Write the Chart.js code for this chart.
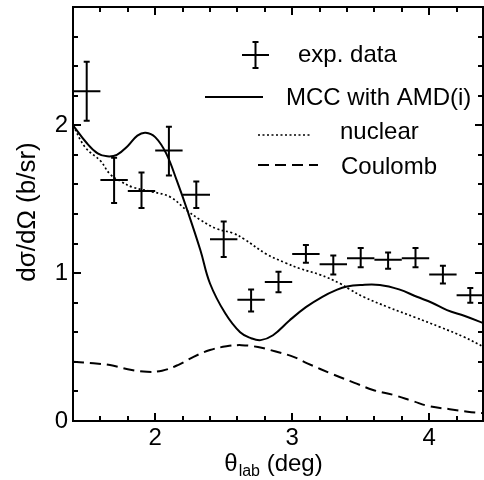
<!DOCTYPE html>
<html>
<head>
<meta charset="utf-8">
<script src="https://cdn.jsdelivr.net/npm/chart.js@4.4.1/dist/chart.umd.min.js"></script>
<style>
  html, body { margin: 0; padding: 0; background: #fff; }
  #wrap { width: 484px; height: 480px; }
</style>
</head>
<body>
<div id="wrap"><canvas id="chart" width="484" height="480"></canvas></div>
<script>
// Experimental points (deg, b/sr) with vertical error range
const expAngle = [1.50, 1.70, 1.90, 2.10, 2.30, 2.50, 2.70, 2.90, 3.10, 3.30, 3.50, 3.70, 3.90, 4.10, 4.30];
const expValue = [2.23, 1.63, 1.555, 1.83, 1.53, 1.23, 0.82, 0.94, 1.13, 1.06, 1.10, 1.09, 1.10, 0.99, 0.85];
const expLow   = [2.03, 1.475, 1.44, 1.66, 1.44, 1.11, 0.74, 0.87, 1.07, 0.99, 1.04, 1.03, 1.04, 0.93, 0.80];
const expHigh  = [2.43, 1.78, 1.68, 1.99, 1.62, 1.35, 0.89, 1.01, 1.19, 1.12, 1.17, 1.14, 1.17, 1.05, 0.90];
const expHalfWidth = 0.1;

// MCC with AMD(i)
const mccAngle = [1.40, 1.50, 1.58, 1.65, 1.72, 1.80, 1.87, 1.93, 2.00, 2.08, 2.16, 2.24, 2.33, 2.40, 2.51, 2.62, 2.70, 2.77, 2.86, 2.98, 3.10, 3.22, 3.32, 3.40, 3.50, 3.64, 3.78, 3.91, 4.02, 4.13, 4.26, 4.40];
const mccValue = [2.00, 1.88, 1.81, 1.79, 1.80, 1.86, 1.93, 1.95, 1.92, 1.81, 1.62, 1.41, 1.155, 0.93, 0.73, 0.60, 0.56, 0.547, 0.58, 0.68, 0.77, 0.84, 0.885, 0.91, 0.92, 0.92, 0.89, 0.84, 0.80, 0.75, 0.71, 0.66];

// nuclear
const nucAngle = [1.40, 1.49, 1.60, 1.67, 1.75, 1.84, 1.98, 2.11, 2.23, 2.33, 2.45, 2.57, 2.65, 2.81, 2.95, 3.06, 3.20, 3.35, 3.42, 3.52, 3.70, 3.90, 4.08, 4.25, 4.40];
const nucValue = [2.00, 1.85, 1.76, 1.67, 1.62, 1.58, 1.55, 1.515, 1.425, 1.36, 1.30, 1.27, 1.23, 1.13, 1.07, 1.03, 0.99, 0.93, 0.89, 0.84, 0.77, 0.70, 0.635, 0.57, 0.50];

// Coulomb
const coulAngle = [1.40, 1.55, 1.67, 1.80, 1.94, 2.05, 2.17, 2.28, 2.40, 2.52, 2.63, 2.75, 2.88, 3.01, 3.11, 3.30, 3.45, 3.59, 3.74, 3.88, 4.00, 4.15, 4.28, 4.40];
const coulValue = [0.40, 0.39, 0.378, 0.35, 0.333, 0.34, 0.38, 0.434, 0.48, 0.505, 0.513, 0.50, 0.47, 0.434, 0.39, 0.315, 0.26, 0.21, 0.176, 0.135, 0.10, 0.08, 0.063, 0.052];

const xTickLabels = [2, 3, 4];
const yTickLabels = [0, 1, 2];
const minorStep = 0.2;

const FONT = "'Liberation Sans', Arial, Helvetica, sans-serif";

function pairs(xs, ys) {
    return xs.map((x, i) => ({ x: x, y: ys[i] }));
}

// error bars for the experimental points
const errorBars = {
    id: 'errorBars',
    afterDatasetsDraw(chart) {
        const ctx = chart.ctx;
        const xs = chart.scales.x, ys = chart.scales.y;
        ctx.save();
        ctx.strokeStyle = '#000';
        ctx.lineWidth = 2;
        expAngle.forEach((a, i) => {
            const px = xs.getPixelForValue(a);
            const py = ys.getPixelForValue(expValue[i]);
            const lo = ys.getPixelForValue(expLow[i]);
            const hi = ys.getPixelForValue(expHigh[i]);
            ctx.beginPath();
            ctx.moveTo(xs.getPixelForValue(a - expHalfWidth), py);
            ctx.lineTo(xs.getPixelForValue(a + expHalfWidth), py);
            ctx.moveTo(px, lo);
            ctx.lineTo(px, hi);
            ctx.moveTo(px - 3, lo);
            ctx.lineTo(px + 3, lo);
            ctx.moveTo(px - 3, hi);
            ctx.lineTo(px + 3, hi);
            ctx.stroke();
        });
        ctx.restore();
    }
};

// box around the plot with inward ticks on all four sides, plus axis titles and legend
const frame = {
    id: 'frame',
    afterDraw(chart) {
        const ctx = chart.ctx;
        const a = chart.chartArea;
        const xs = chart.scales.x, ys = chart.scales.y;
        ctx.save();
        ctx.strokeStyle = '#000';
        ctx.lineWidth = 2;
        ctx.strokeRect(a.left, a.top, a.right - a.left - 1, a.bottom - a.top);

        ctx.beginPath();
        for (let v = xs.min; v <= xs.max + 1e-6; v += minorStep) {
            const major = Math.abs(v - Math.round(v)) < 1e-6;
            const len = major ? 8 : 5;
            const px = Math.round(xs.getPixelForValue(v));
            ctx.moveTo(px, a.bottom); ctx.lineTo(px, a.bottom - len);
            ctx.moveTo(px, a.top); ctx.lineTo(px, a.top + len);
        }
        for (let v = ys.min; v <= ys.max + 1e-6; v += minorStep) {
            const major = Math.abs(v - Math.round(v)) < 1e-6;
            const len = major ? 8 : 5;
            const py = Math.round(ys.getPixelForValue(v));
            ctx.moveTo(a.left, py); ctx.lineTo(a.left + len, py);
            ctx.moveTo(a.right - 1, py); ctx.lineTo(a.right - 1 - len, py);
        }
        ctx.stroke();

        // axis titles
        ctx.fillStyle = '#000';
        ctx.textBaseline = 'alphabetic';
        ctx.textAlign = 'left';
        const big = '24px ' + FONT, small = '16px ' + FONT;
        ctx.font = big;
        const w1 = ctx.measureText('\u03b8').width;
        const w3 = ctx.measureText(' (deg)').width;
        ctx.font = small;
        const w2 = ctx.measureText('lab').width;
        let tx = 273 - (w1 + w2 + w3) / 2;
        ctx.font = big;
        ctx.fillText('\u03b8', tx, 471);
        ctx.font = small;
        ctx.fillText('lab', tx + w1 + 1, 476);
        ctx.font = big;
        ctx.fillText(' (deg)', tx + w1 + w2 + 1, 471);

        ctx.save();
        ctx.translate(28, 212);
        ctx.rotate(-Math.PI / 2);
        ctx.textAlign = 'center';
        ctx.textBaseline = 'middle';
        ctx.font = '26px ' + FONT;
        ctx.fillText('d\u03c3/d\u03a9 (b/sr)', 0, 0);
        ctx.restore();

        // legend
        ctx.beginPath();
        ctx.moveTo(242, 55); ctx.lineTo(269, 55);
        ctx.moveTo(255.5, 42); ctx.lineTo(255.5, 68);
        ctx.moveTo(252.5, 42); ctx.lineTo(258.5, 42);
        ctx.moveTo(252.5, 68); ctx.lineTo(258.5, 68);
        ctx.stroke();

        ctx.beginPath();
        ctx.moveTo(205, 97); ctx.lineTo(263, 97);
        ctx.stroke();

        ctx.setLineDash([2, 2.5]);
        ctx.lineWidth = 1.7;
        ctx.beginPath();
        ctx.moveTo(258, 135); ctx.lineTo(312, 135);
        ctx.stroke();

        ctx.setLineDash([11, 6]);
        ctx.lineWidth = 2;
        ctx.beginPath();
        ctx.moveTo(258, 165); ctx.lineTo(318, 165);
        ctx.stroke();
        ctx.setLineDash([]);

        ctx.font = big;
        ctx.fillText('exp. data', 298, 62);
        ctx.fillText('MCC with AMD(i)', 286, 105);
        ctx.fillText('nuclear', 340, 139);
        ctx.fillText('Coulomb', 341, 174);
        ctx.restore();
    }
};

const lineDefaults = {
    type: 'line',
    borderColor: '#000',
    borderWidth: 2,
    pointRadius: 0,
    tension: 0.4,
    fill: false
};

new Chart(document.getElementById('chart'), {
    type: 'scatter',
    data: {
        datasets: [
            Object.assign({}, lineDefaults, { label: 'MCC with AMD(i)', data: pairs(mccAngle, mccValue) }),
            Object.assign({}, lineDefaults, { label: 'nuclear', data: pairs(nucAngle, nucValue), borderWidth: 1.7, borderDash: [2, 2.5] }),
            Object.assign({}, lineDefaults, { label: 'Coulomb', data: pairs(coulAngle, coulValue), borderDash: [11, 6] }),
            { type: 'scatter', label: 'exp. data', data: pairs(expAngle, expValue), pointRadius: 0 }
        ]
    },
    options: {
        responsive: false,
        animation: false,
        devicePixelRatio: 1,
        layout: { padding: { top: 7, right: 0, left: 0, bottom: 0 } },
        plugins: { legend: { display: false }, tooltip: { enabled: false } },
        scales: {
            x: {
                type: 'linear',
                min: 1.4,
                max: 4.4,
                grid: { display: false, drawTicks: false },
                border: { display: false },
                afterBuildTicks: s => { s.ticks = xTickLabels.map(v => ({ value: v })); },
                afterFit: s => { s.height = 59; s.paddingLeft = 0; s.paddingRight = 0; },
                ticks: { color: '#000', padding: 3, font: { family: FONT, size: 24 }, maxRotation: 0 }
            },
            y: {
                type: 'linear',
                min: 0,
                max: 2.8,
                grid: { display: false, drawTicks: false },
                border: { display: false },
                afterBuildTicks: s => { s.ticks = yTickLabels.map(v => ({ value: v })); },
                afterFit: s => { s.width = 73; s.paddingTop = 0; s.paddingBottom = 0; },
                ticks: { color: '#000', padding: 5, font: { family: FONT, size: 24 } }
            }
        }
    },
    plugins: [errorBars, frame]
});
</script>
</body>
</html>
